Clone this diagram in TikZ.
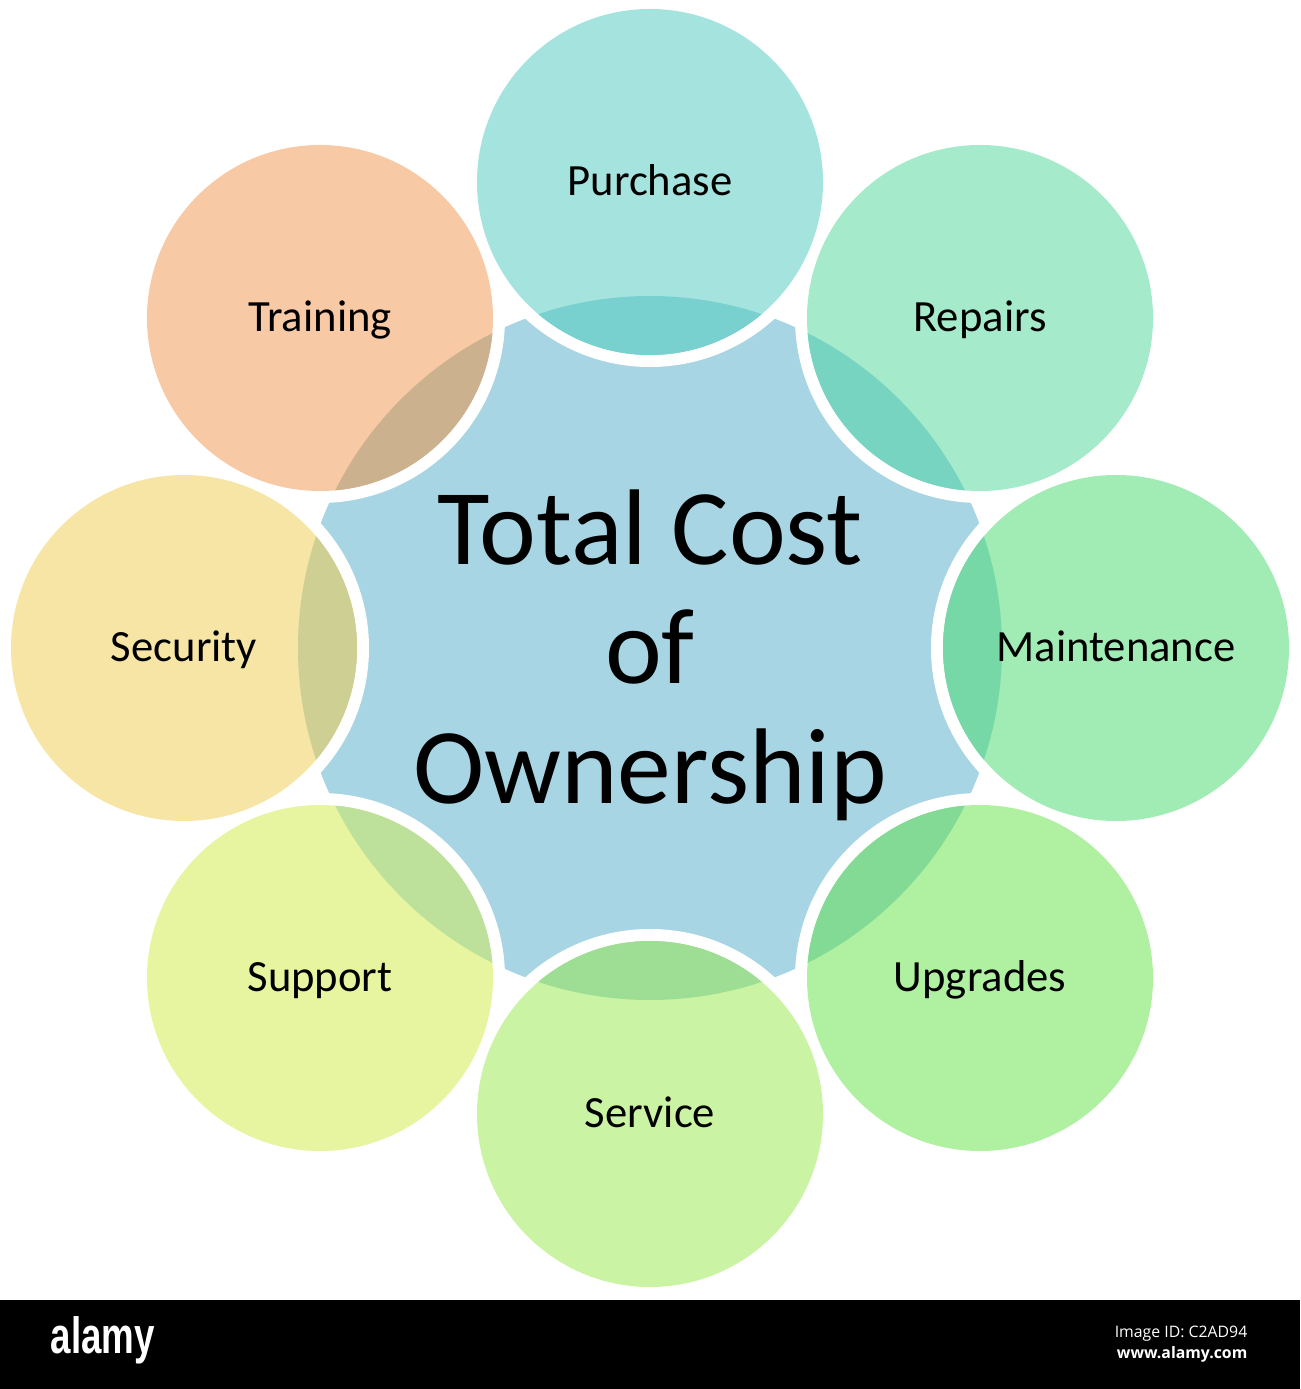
\documentclass[tikz,border=0pt]{standalone}
\usepackage{fontspec}
\setmainfont{Carlito}
\newfontfamily\logofont[FakeStretch=0.72]{Liberation Sans}
\newfontfamily\creditfont{Open Sans}

\definecolor{hubblue}{HTML}{A8D5E3}
\definecolor{purchasefill}{HTML}{A5E4DE}
\definecolor{purchaseover}{HTML}{78D1CF}
\definecolor{repairsfill}{HTML}{A5EACB}
\definecolor{repairsover}{HTML}{76D4C0}
\definecolor{maintfill}{HTML}{A1EBB5}
\definecolor{maintover}{HTML}{76D8A6}
\definecolor{upgradesfill}{HTML}{B0F0A1}
\definecolor{upgradesover}{HTML}{82DA94}
\definecolor{servicefill}{HTML}{CBF3A4}
\definecolor{serviceover}{HTML}{9DDE94}
\definecolor{supportfill}{HTML}{E8F5A0}
\definecolor{supportover}{HTML}{BDE19A}
\definecolor{securityfill}{HTML}{F6E5A5}
\definecolor{securityover}{HTML}{CDCF93}
\definecolor{trainingfill}{HTML}{F8C9A5}
\definecolor{trainingover}{HTML}{CCB18F}

\begin{document}
\begin{tikzpicture}[x=0.01cm, y=0.01cm]
\tikzstyle{every node}+=[inner sep=0pt]
\tikzstyle{ring}=[white, line width=0.12cm]
\tikzstyle{item}=[font=\fontsize{12.7}{15}\selectfont, text height=8.2pt, text depth=0pt]
\useasboundingbox (0,0) rectangle (1300,-1389);
% hub disc
\fill [hubblue] (650,-648) circle (352);
% white rings round the outer circles
\draw [ring] (650,-182) circle (179);
\draw [ring] (980,-318) circle (179);
\draw [ring] (1116,-648) circle (179);
\draw [ring] (980,-978) circle (179);
\draw [ring] (650,-1114) circle (179);
\draw [ring] (320,-978) circle (179);
\draw [ring] (184,-648) circle (179);
\draw [ring] (320,-318) circle (179);
% outer circles
\fill [purchasefill] (650,-182) circle (173);
\fill [repairsfill] (980,-318) circle (173);
\fill [maintfill] (1116,-648) circle (173);
\fill [upgradesfill] (980,-978) circle (173);
\fill [servicefill] (650,-1114) circle (173);
\fill [supportfill] (320,-978) circle (173);
\fill [securityfill] (184,-648) circle (173);
\fill [trainingfill] (320,-318) circle (173);
% overlaps with the hub
\begin{scope}
\clip (650,-648) circle (352);
\fill [purchaseover] (650,-182) circle (173);
\fill [repairsover] (980,-318) circle (173);
\fill [maintover] (1116,-648) circle (173);
\fill [upgradesover] (980,-978) circle (173);
\fill [serviceover] (650,-1114) circle (173);
\fill [supportover] (320,-978) circle (173);
\fill [securityover] (184,-648) circle (173);
\fill [trainingover] (320,-318) circle (173);
\end{scope}
% labels
\node [item] (purchase) at (650,-181) {Purchase};
\node [item] (repairs) at (980,-317) {Repairs};
\node [item] (maintenance) at (1116,-647) {Maintenance};
\node [item] (upgrades) at (980,-977) {Upgrades};
\node [item] (service) at (650,-1113) {Service};
\node [item] (support) at (320,-977) {Support};
\node [item] (security) at (184,-647) {Security};
\node [item] (training) at (320,-317) {Training};
\node [align=center, font=\fontsize{30.6}{34}\selectfont] (tco) at (650,-655) {Total Cost\\of\\Ownership};
% credit bar
\fill [black] (0,-1300) rectangle (1300,-1389);
\node [white, font=\logofont\bfseries\fontsize{14.5}{15}\selectfont, anchor=base west] (logo) at (50,-1353) {alamy};
\node [white, font=\creditfont\fontsize{4.5}{5}\selectfont, anchor=base east] (imageid) at (1248,-1337) {Image ID: C2AD94};
\node [white, font=\creditfont\bfseries\fontsize{4.5}{5}\selectfont, anchor=base east] (site) at (1248,-1358) {www.alamy.com};
\end{tikzpicture}
\end{document}
